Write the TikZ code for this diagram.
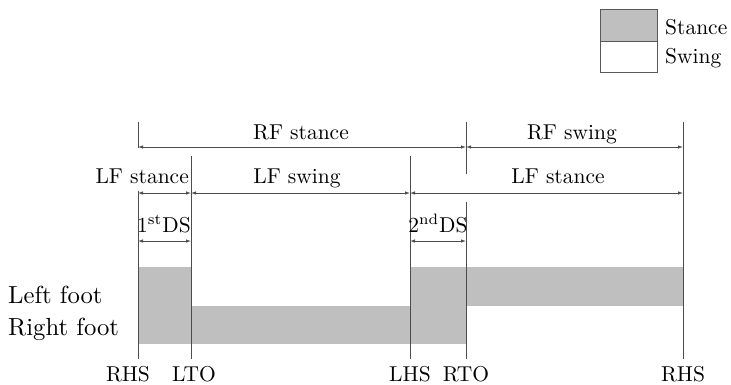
\documentclass[tikz,border=0pt]{standalone}
\usepackage{graphicx}
\usetikzlibrary{arrows.meta}
% text set at 10pt and enlarged, keeping the 10pt design shapes
\newcommand{\lbltext}[1]{\scalebox{2.15}{#1}}
\newcommand{\foottext}[1]{\scalebox{2.47}{#1}}
\begin{document}
\begin{tikzpicture}[x=1pt,y=-1pt,
  lbl/.style={inner sep=0pt},
  footlbl/.style={inner sep=0pt, anchor=base west},
  tick/.style={draw=black!70, line width=0.8pt},
  dim/.style={draw=black!70, line width=0.8pt,
    {Latex[length=5pt,width=3.5pt]}-{Latex[length=5pt,width=3.5pt]}},
  stancefill/.style={fill=black!25, draw=none},
  legendbox/.style={draw=black!65, line width=0.8pt},
]
\useasboundingbox (0,0) rectangle (731,384);

% legend
\draw[legendbox, fill=black!25] (600,9) rectangle (657,41);
\draw[legendbox] (600,41) rectangle (657,72);
\node[lbl, anchor=base west] (legstance) at (665,34) {\lbltext{Stance}};
\node[lbl, anchor=base west] (legswing) at (665,63) {\lbltext{Swing}};

% stance phases of both feet
\fill[stancefill] (138,267) rectangle (191,344);
\fill[stancefill] (191,306) rectangle (410,344);
\fill[stancefill] (410,267) rectangle (466,344);
\fill[stancefill] (466,267) rectangle (683,306);

% gait events (RHS, LTO, LHS, RTO, RHS)
\coordinate (a1) at (138,122); \coordinate (a2) at (138,148);
\coordinate (a3) at (138,191); \coordinate (a4) at (138,359);
\coordinate (b1) at (191,156); \coordinate (b2) at (191,359);
\coordinate (c1) at (410,156); \coordinate (c2) at (410,359);
\coordinate (d1) at (466,122); \coordinate (d2) at (466,174);
\coordinate (d3) at (466,202); \coordinate (d4) at (466,359);
\coordinate (e1) at (683,122); \coordinate (e2) at (683,359);
\draw[tick] (a1) -- (a2);
\draw[tick] (a3) -- (a4);
\draw[tick] (b1) -- (b2);
\draw[tick] (c1) -- (c2);
\draw[tick] (d1) -- (d2);
\draw[tick] (d3) -- (d4);
\draw[tick] (e1) -- (e2);

% right foot phases
\coordinate (r1) at (138,147); \coordinate (r2) at (466,147); \coordinate (r3) at (683,147);
\draw[dim] (r1) -- (r2);
\draw[dim] (r2) -- (r3);
\node[lbl, anchor=base] (rfstance) at (301,139) {\lbltext{RF stance}};
\node[lbl, anchor=base] (rfswing) at (572,139) {\lbltext{RF swing}};

% left foot phases
\coordinate (l1) at (138,193); \coordinate (l2) at (191,193);
\coordinate (l3) at (410,193); \coordinate (l4) at (683,193);
\draw[dim] (l1) -- (l2);
\draw[dim] (l2) -- (l3);
\draw[dim] (l3) -- (l4);
\node[lbl, anchor=base east] (lfstanceA) at (189,183) {\lbltext{LF stance}};
\node[lbl, anchor=base] (lfswing) at (297,183) {\lbltext{LF swing}};
\node[lbl, anchor=base] (lfstanceB) at (558,183) {\lbltext{LF stance}};

% double support phases
\coordinate (s1) at (138,241); \coordinate (s2) at (191,241);
\coordinate (s3) at (410,241); \coordinate (s4) at (466,241);
\draw[dim] (s1) -- (s2);
\draw[dim] (s3) -- (s4);
\node[lbl, anchor=base] (ds1) at (164,232) {\lbltext{1\textsuperscript{st}DS}};
\node[lbl, anchor=base] (ds2) at (438,232) {\lbltext{2\textsuperscript{nd}DS}};

% row labels
\node[footlbl] (leftfoot) at (8,303) {\foottext{Left foot}};
\node[footlbl] (rightfoot) at (8,335) {\foottext{Right foot}};

% event labels
\node[lbl, anchor=base] (ev1) at (128,381) {\lbltext{RHS}};
\node[lbl, anchor=base] (ev2) at (194,381) {\lbltext{LTO}};
\node[lbl, anchor=base] (ev3) at (410,381) {\lbltext{LHS}};
\node[lbl, anchor=base] (ev4) at (466,381) {\lbltext{RTO}};
\node[lbl, anchor=base] (ev5) at (683,381) {\lbltext{RHS}};
\end{tikzpicture}
\end{document}
